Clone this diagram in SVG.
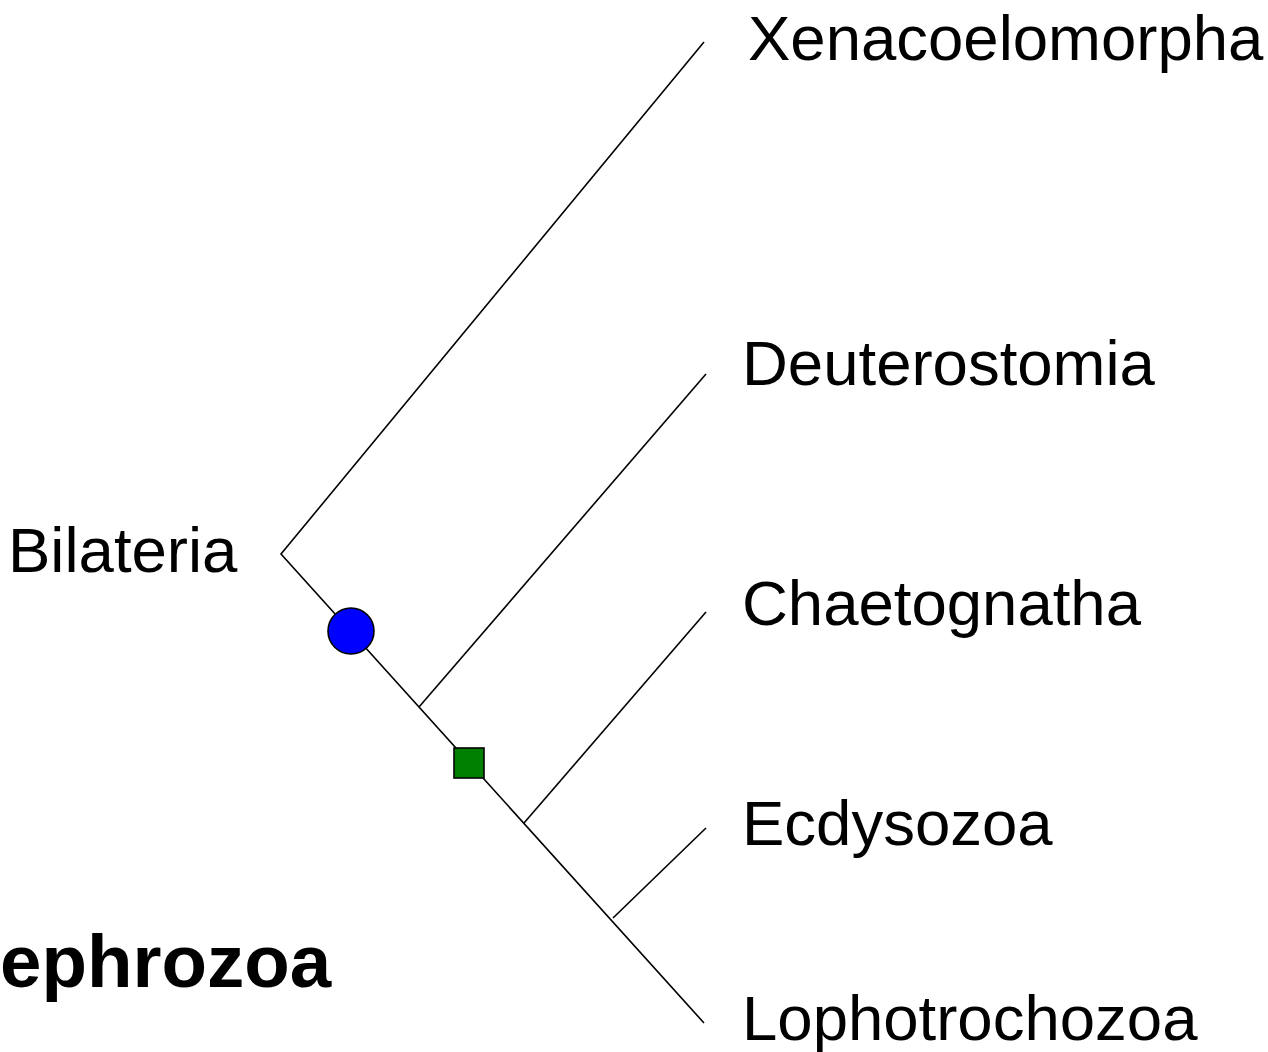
<svg xmlns="http://www.w3.org/2000/svg" width="1268" height="1052" viewBox="0 0 1268 1052">
<style>
.lbl{font-family:"Liberation Sans",Arial,sans-serif;font-size:63.5px;fill:#000}
.bold{font-weight:bold;font-size:74.5px}
.br{stroke:#000;stroke-width:1.6;fill:none;stroke-linecap:butt}
</style>
<rect width="1268" height="1052" fill="#fff"/>
<g id="connectors">
<polyline class="br" points="704,42 281,554 704,1023"/>
<line class="br" x1="419" y1="707" x2="706" y2="374"/>
<line class="br" x1="524" y1="823" x2="706" y2="612"/>
<line class="br" x1="613" y1="918" x2="706" y2="828"/>
</g>
<g id="node-xenacoelomorpha"><text class="lbl" x="748" y="60">Xenacoelomorpha</text></g>
<g id="node-deuterostomia"><text class="lbl" x="742" y="385">Deuterostomia</text></g>
<g id="node-chaetognatha"><text class="lbl" x="742" y="625">Chaetognatha</text></g>
<g id="node-ecdysozoa"><text class="lbl" x="742" y="845">Ecdysozoa</text></g>
<g id="node-lophotrochozoa"><text class="lbl" x="742" y="1040">Lophotrochozoa</text></g>
<g id="node-bilateria"><text class="lbl" x="8" y="572">Bilateria</text></g>
<g id="node-nephrozoa"><text class="lbl bold" x="0" y="987">ephrozoa</text></g>
<g id="marker-circle"><circle cx="351" cy="631" r="23" fill="#0000ff" stroke="#000" stroke-width="1.6"/></g>
<g id="marker-square"><rect x="454" y="748" width="30" height="30" fill="#008000" stroke="#000" stroke-width="1.6"/></g>
</svg>
